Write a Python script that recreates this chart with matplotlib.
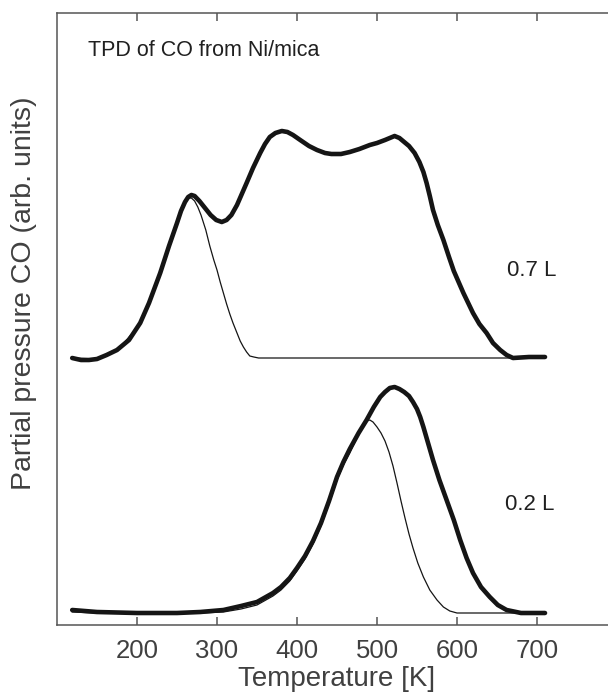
import matplotlib
matplotlib.use("Agg")
import matplotlib.pyplot as plt

plt.rcParams['font.family'] = ['Liberation Sans', 'DejaVu Sans']

# 0.7 L exposure - measured TPD trace (arb. units above baseline)
t_07 = [119, 130, 140, 150, 162, 175, 190, 204, 215, 229, 240, 250, 255, 260, 264,
        268, 272, 278, 285, 292, 299, 306, 312, 318, 325, 337, 345, 354, 360, 366,
        373, 381, 388, 395, 404, 415, 425, 435, 443, 455, 466, 478, 491, 500, 510,
        516, 522, 528, 534, 540, 547, 553, 558, 562, 566, 570, 576, 583, 590, 596,
        602, 608, 620, 628, 637, 645, 654, 662, 670, 690, 710]
p_07 = [0, -2, -2, -1, 3, 8, 18, 35, 55, 85, 112, 135, 147, 156, 161,
        163, 162, 157, 150, 143, 138, 136, 138, 143, 153, 175, 190, 205, 214, 221,
        225, 227, 226, 223, 218, 212, 208, 205, 204, 204, 206, 209, 213, 215, 218,
        220, 222, 220, 216, 212, 205, 196, 186, 175, 162, 148, 133, 118, 101, 87,
        76, 65, 45, 34, 25, 15, 8, 3, 0, 1, 1]

# 0.7 L - fitted low temperature peak
t_07_fit = [119, 150, 175, 204, 229, 250, 255, 260, 264, 268, 272, 276, 280, 286,
            291, 296, 300, 304, 308, 312, 316, 320, 325, 329, 333, 337, 341, 346,
            352, 680]
p_07_fit = [0, -1, 7, 34, 84, 134, 145, 155, 160, 160, 157, 151, 143, 128,
            112, 98, 88, 76, 65, 54, 44, 35, 25, 17, 11, 6, 2, 1,
            0, 0]

# 0.2 L exposure - measured TPD trace
t_02 = [119, 150, 200, 250, 279, 308, 330, 350, 370, 380, 391, 400, 410, 420, 430,
        440, 450, 458, 466, 477, 487, 496, 504, 510, 516, 522, 528, 534, 540, 545,
        550, 554, 558, 562, 570, 578, 587, 596, 604, 612, 620, 630, 641, 651, 662,
        680, 710]
p_02 = [3, 1, 0, 0, 1, 3, 7, 11, 20, 26, 35, 45, 57, 72, 90,
        112, 136, 151, 164, 180, 193, 206, 216, 221, 225, 226, 224, 221, 217, 211,
        204, 196, 186, 175, 153, 133, 113, 93, 73, 55, 40, 26, 16, 8, 3,
        0, 0]

# 0.2 L - fitted peak
t_02_fit = [119, 150, 200, 250, 279, 308, 330, 350, 370, 380, 391, 400, 410, 420,
            430, 440, 450, 458, 466, 475, 482, 487, 491, 495, 500, 505, 510, 515,
            520, 525, 530, 535, 540, 545, 551, 558, 566, 575, 583, 591, 600, 680]
p_02_fit = [1, 0, 0, 0, 0, 1, 4, 8, 17, 23, 32, 42, 54, 69,
            87, 109, 133, 148, 160, 175, 186, 192, 193, 191, 186, 180, 172, 161,
            147, 130, 112, 95, 79, 65, 50, 36, 23, 13, 6, 2, 0, 0]

offset_07 = 267
offset_02 = 12

fig = plt.figure(figsize=(6.08, 6.95), dpi=100)
ax = fig.add_axes([57 / 608, 70 / 695, 560 / 608, 612 / 695])

ink = '#151515'
ax.plot(t_07, [v + offset_07 for v in p_07], color=ink, lw=3.3,
        solid_capstyle='round', solid_joinstyle='round')
ax.plot(t_07_fit, [v + offset_07 for v in p_07_fit], color=ink, lw=0.9)
ax.plot(t_02, [v + offset_02 for v in p_02], color=ink, lw=3.3,
        solid_capstyle='round', solid_joinstyle='round')
ax.plot(t_02_fit, [v + offset_02 for v in p_02_fit], color=ink, lw=0.9)

ax.set_xlim(100, 800)
ax.set_ylim(0, 612)

spine_col = '#555555'
for s in ax.spines.values():
    s.set_color(spine_col)
    s.set_linewidth(1.1)

ax.set_xticks([200, 300, 400, 500, 600, 700])
ax.tick_params(axis='x', which='major', direction='in', top=True, bottom=True,
               length=6, width=1.1, color=spine_col, labelsize=18.5,
               labelcolor='#404040', pad=10)
ax.set_yticks([])

ax.set_xlabel('Temperature [K]', fontsize=20, color='#404040', labelpad=2)
fig.text(24 / 608, 1 - 293 / 695, 'Partial pressure CO (arb. units)',
         rotation=90, ha='center', va='center', fontsize=20.5, color='#404040')

# free labels placed in pixel coordinates (top-left origin)
labels = [(88, 51, 'TPD of CO from Ni/mica', 15.5),
          (507, 270, '0.7 L', 16),
          (505, 505, '0.2 L', 16)]
for x, y, s, fs in labels:
    fig.text(x / 608, 1 - y / 695, s, fontsize=fs, color='#202020', va='center')

fig.savefig('out.png', dpi=100)
